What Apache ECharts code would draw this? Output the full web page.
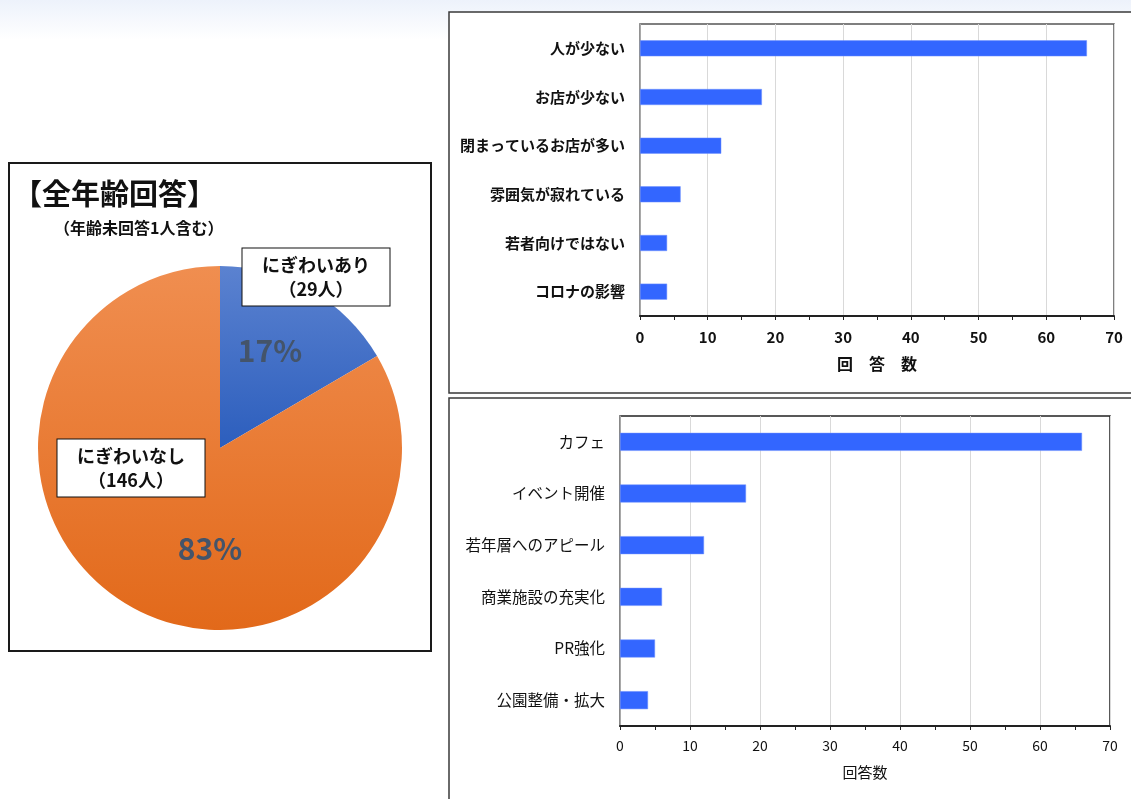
<!DOCTYPE html>
<html><head><meta charset="utf-8">
<script src="https://cdn.jsdelivr.net/npm/echarts@6/dist/echarts.min.js"></script>
<style>
html,body{margin:0;padding:0;background:#fff;}
#bg{position:absolute;left:0;top:0;width:1131px;height:40px;background:linear-gradient(#edf2fb,#ffffff);}
#c{position:absolute;left:0;top:0;width:1131px;height:799px;}
</style></head>
<body><div id="bg"></div><div id="c"></div>
<script>
// Pie data
const pieNames = ['にぎわいあり', 'にぎわいなし'];
const pieValues = [29, 146];
const pieTitle = '【全年齢回答】';
const pieSubtitle = '（年齢未回答1人含む）';

// Top bar chart
const topCats = ['人が少ない', 'お店が少ない', '閉まっているお店が多い', '雰囲気が寂れている', '若者向けではない', 'コロナの影響'];
const topVals = [66, 18, 12, 6, 4, 4];
const topAxisName = '回　答　数';

// Bottom bar chart
const botCats = ['カフェ', 'イベント開催', '若年層へのアピール', '商業施設の充実化', 'PR強化', '公園整備・拡大'];
const botVals = [66, 18, 12, 6, 5, 4];
const botAxisName = '回答数';

const FONT = '"Noto Sans CJK JP", "Noto Sans", sans-serif';
const BAR = '#3366ff';

const chart = echarts.init(document.getElementById('c'), null, {renderer: 'canvas'});

const pieColors = [
  new echarts.graphic.LinearGradient(0, 0, 0, 1, [{offset: 0, color: '#5b82d0'}, {offset: 1, color: '#2c5ebd'}]),
  new echarts.graphic.LinearGradient(0, 0, 0, 1, [{offset: 0, color: '#f08e50'}, {offset: 1, color: '#e2691a'}])
];

const pctPos = [[270, 351], [210, 549]];
const boxPos = [[316, 277], [131, 468]];

function xAxisCfg(bold, name, gap, labelSize, nameSize, margin) {
  return {
    type: 'value', min: 0, max: 70, interval: 10,
    name: name, nameLocation: 'middle', nameGap: gap,
    nameTextStyle: {fontFamily: FONT, fontSize: nameSize, fontWeight: bold ? 'bold' : 'normal', color: '#111'},
    axisLine: {show: true, lineStyle: {color: '#222', width: 2}},
    axisTick: {show: true, length: 4, lineStyle: {color: '#222'}},
    minorTick: {show: true, splitNumber: 2, length: 4, lineStyle: {color: '#222'}},
    axisLabel: {fontFamily: FONT, fontSize: labelSize, fontWeight: bold ? 'bold' : 'normal', color: '#111', margin: margin},
    splitLine: {show: true, lineStyle: {color: '#d9d9d9', width: 1}}
  };
}
function yAxisCfg(cats, bold, idx, size) {
  return {
    type: 'category', data: cats, inverse: true, gridIndex: idx,
    axisLine: {show: true, lineStyle: {color: '#999', width: 1.5}},
    axisTick: {show: false},
    axisLabel: {fontFamily: FONT, fontSize: size, fontWeight: bold ? 'bold' : 'normal', color: '#111', margin: 15}
  };
}

const xa1 = xAxisCfg(true, topAxisName, 40, 15, 16, 14); xa1.gridIndex = 0;
const xa2 = xAxisCfg(false, botAxisName, 39, 14, 15, 13); xa2.gridIndex = 1;

chart.setOption({
  animation: false,
  title: [
    {text: pieTitle, left: 8, top: 174, textStyle: {fontFamily: FONT, fontSize: 29, fontWeight: 'bold', color: '#111'}},
    {text: pieSubtitle, left: 49, top: 215, textStyle: {fontFamily: FONT, fontSize: 16, fontWeight: 'bold', color: '#111'}}
  ],
  graphic: [
    {type: 'rect', shape: {x: 9, y: 163, width: 422, height: 488}, style: {fill: 'none', stroke: '#1a1a1a', lineWidth: 2}, z: -1},
    {type: 'rect', shape: {x: 449, y: 12, width: 720, height: 381}, style: {fill: '#fff', stroke: '#3a3a3a', lineWidth: 1.5}, z: -10},
    {type: 'rect', shape: {x: 449, y: 398, width: 720, height: 430}, style: {fill: '#fff', stroke: '#3a3a3a', lineWidth: 1.5}, z: -10}
  ],
  grid: [
    {left: 640, top: 24, width: 474, height: 292, show: true, borderColor: '#555', borderWidth: 1.5, backgroundColor: 'transparent'},
    {left: 620, top: 416, width: 490, height: 310, show: true, borderColor: '#222', borderWidth: 1.5, backgroundColor: 'transparent'}
  ],
  xAxis: [xa1, xa2],
  yAxis: [yAxisCfg(topCats, true, 0, 15), yAxisCfg(botCats, false, 1, 15.5)],
  series: [
    {type: 'bar', xAxisIndex: 0, yAxisIndex: 0, data: topVals, barWidth: 16,
     itemStyle: {color: BAR, borderColor: '#6f90ff', borderWidth: 0.5}},
    {type: 'bar', xAxisIndex: 1, yAxisIndex: 1, data: botVals, barWidth: 18,
     itemStyle: {color: BAR, borderColor: '#6f90ff', borderWidth: 0.5}},
    {type: 'pie', center: [220, 448], radius: 182, startAngle: 90, clockwise: true,
     data: pieNames.map((n, i) => ({name: n, value: pieValues[i], itemStyle: {color: pieColors[i]}})),
     label: {show: true, position: 'inside', fontFamily: FONT, fontSize: 30, fontWeight: 'bold', color: '#44546a',
       formatter: p => Math.round(p.percent) + '%'},
     labelLayout: p => ({x: pctPos[p.dataIndex][0], y: pctPos[p.dataIndex][1], align: 'center', verticalAlign: 'middle'}),
     labelLine: {show: false}, silent: true, z: 2},
    {type: 'pie', center: [220, 448], radius: 182, startAngle: 90, clockwise: true,
     data: pieNames.map((n, i) => ({name: n, value: pieValues[i]})),
     itemStyle: {color: 'rgba(0,0,0,0)'},
     label: {show: true, position: 'outside', fontFamily: FONT, fontSize: 18, fontWeight: 'bold', color: '#111',
       lineHeight: 24, align: 'center', width: 127, padding: [5, 10, 4, 10],
       backgroundColor: '#fff', borderColor: '#111', borderWidth: 1,
       formatter: p => p.name + '\n（' + p.value + '人）'},
     labelLayout: p => ({x: boxPos[p.dataIndex][0], y: boxPos[p.dataIndex][1], align: 'center', verticalAlign: 'middle', hideOverlap: false}),
     labelLine: {show: false}, silent: true, z: 3}
  ]
});
</script></body></html>
